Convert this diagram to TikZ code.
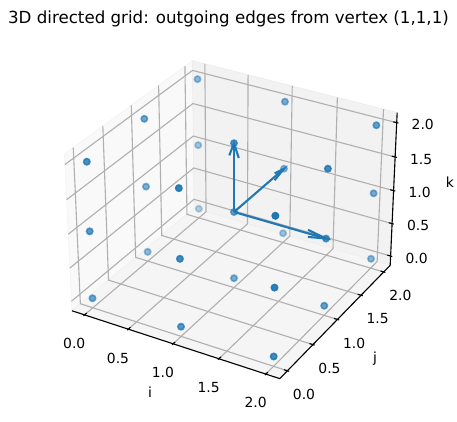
\documentclass[tikz,border=0pt]{standalone}
\usepackage{fontspec}
\setmainfont{DejaVu Sans}
\definecolor{tabblue}{RGB}{31,119,180}
\definecolor{gridgray}{RGB}{176,176,176}

% perspective view of a grid point (i,j,k), elevation 30, azimuth -60
\newcommand{\gridproj}[3]{%
  \pgfmathsetmacro{\qa}{0.5195*(#1-1)}%
  \pgfmathsetmacro{\qb}{0.5195*(#2-1)}%
  \pgfmathsetmacro{\qc}{0.3896*(#3-1)}%
  \pgfmathsetmacro{\dep}{0.433*\qa-0.75*\qb+0.5*\qc}%
  \pgfmathsetmacro{\fac}{200/(1-\dep/10)}%
  \pgfmathsetmacro{\gpx}{234+\fac*(0.866*\qa+0.5*\qb)}%
  \pgfmathsetmacro{\gpy}{212-\fac*(-0.25*\qa+0.433*\qb+0.866*\qc)}%
}
\newcommand{\setpt}[4]{\gridproj{#1}{#2}{#3}\coordinate (#4) at (\gpx,\gpy);}
\def\glo{-0.1458}
\def\ghi{2.1458}

\begin{document}
\begin{tikzpicture}[x=0.72pt,y=-0.72pt]
\tikzstyle{gridline}=[gridgray,line width=0.8pt]
\tikzstyle{axisline}=[black,line width=0.8pt]
\tikzstyle{ticklabel}=[font=\fontsize{10}{12}\selectfont,inner sep=0pt]
\tikzstyle{vertex}=[circle,fill=tabblue,draw=tabblue,line width=1.2pt,inner sep=0pt,minimum size=4.5pt]
\tikzstyle{quiv}=[tabblue,line width=1.5pt]
\useasboundingbox (0,0) rectangle (457,421);

\node[font=\fontsize{12}{14}\selectfont] (title) at (228.5,18.5) {3D directed grid: outgoing edges from vertex (1,1,1)};

% box corners and panes
\setpt{\glo}{\glo}{\glo}{c000} \setpt{\ghi}{\glo}{\glo}{c100}
\setpt{\glo}{\ghi}{\glo}{c010} \setpt{\ghi}{\ghi}{\glo}{c110}
\setpt{\glo}{\glo}{\ghi}{c001} \setpt{\glo}{\ghi}{\ghi}{c011}
\setpt{\ghi}{\ghi}{\ghi}{c111}
\filldraw[fill=black!2.5,draw=black!5] (c000) -- (c010) -- (c011) -- (c001) -- cycle;
\filldraw[fill=black!5,draw=black!8] (c010) -- (c110) -- (c111) -- (c011) -- cycle;
\filldraw[fill=black!3.75,draw=black!6] (c000) -- (c100) -- (c110) -- (c010) -- cycle;

\foreach \t [count=\n] in {0,0.5,1,1.5,2}{
  \setpt{\t}{\glo}{\glo}{gia\n} \setpt{\t}{\ghi}{\glo}{gib\n} \setpt{\t}{\ghi}{\ghi}{gic\n}
  \draw[gridline] (gia\n) -- (gib\n) -- (gic\n);
  \setpt{\ghi}{\t}{\glo}{gja\n} \setpt{\glo}{\t}{\glo}{gjb\n} \setpt{\glo}{\t}{\ghi}{gjc\n}
  \draw[gridline] (gja\n) -- (gjb\n) -- (gjc\n);
  \setpt{\glo}{\glo}{\t}{gka\n} \setpt{\glo}{\ghi}{\t}{gkb\n} \setpt{\ghi}{\ghi}{\t}{gkc\n}
  \draw[gridline] (gka\n) -- (gkb\n) -- (gkc\n);
}

\draw[axisline] (c000) -- (c100) -- (c110) -- (c111);

% ticks and tick labels
\foreach \t [count=\n] in {0.0,0.5,1.0,1.5,2.0}{
  \setpt{\t}{\glo}{\glo}{ib\n} \setpt{\t}{-0.1641}{\glo}{io\n} \setpt{\t}{-0.1091}{\glo}{ii\n}
  \draw[axisline] (io\n) -- (ii\n);
  \node[ticklabel] (il\n) at ([shift={(-10.3,28.8)}]ib\n) {\t};
  \setpt{\ghi}{\t}{\glo}{jb\n} \setpt{2.1641}{\t}{\glo}{jo\n} \setpt{2.1091}{\t}{\glo}{ji\n}
  \draw[axisline] (jo\n) -- (ji\n);
  \node[ticklabel] (jl\n) at ([shift={(16.6,23.6)}]jb\n) {\t};
  \setpt{\ghi}{\ghi}{\t}{kb\n} \setpt{2.1641}{\ghi}{\t}{ko\n} \setpt{2.1091}{\ghi}{\t}{ki\n}
  \draw[axisline] (ko\n) -- (ki\n);
  \node[ticklabel] (kl\n) at ([shift={(26,2.2)}]kb\n) {\t};
}
\node[ticklabel] (ilabel) at ([shift={(-23,48)}]ib3) {i};
\node[ticklabel] (jlabel) at ([shift={(37.5,38.8)}]jb3) {j};
\node[ticklabel] (klabel) at ([shift={(56.4,-8.9)}]kb3) {k};

% vertices, fainter further back
\foreach \i in {0,1,2}{\foreach \j in {0,1,2}{\foreach \k in {0,1,2}{
  \gridproj{\i}{\j}{\k}
  \pgfmathsetmacro{\shade}{0.3+0.7*(\dep+0.8094)/1.6188}
  \node[vertex,opacity=\shade] (v\i\j\k) at (\gpx,\gpy) {};
}}}

% outgoing edges of (1,1,1)
\setpt{1.8068}{1}{1.0518}{hi1} \setpt{1.8068}{1}{0.9482}{hi2}
\setpt{1}{1.8068}{1.0518}{hj1} \setpt{1}{1.8068}{0.9482}{hj2}
\setpt{1.0518}{1}{1.8068}{hk1} \setpt{0.9482}{1}{1.8068}{hk2}
\draw[quiv] (v111.center) -- (v211.center);
\draw[quiv] (hi1) -- (v211.center) -- (hi2);
\draw[quiv] (v111.center) -- (v121.center);
\draw[quiv] (hj1) -- (v121.center) -- (hj2);
\draw[quiv] (v111.center) -- (v112.center);
\draw[quiv] (hk1) -- (v112.center) -- (hk2);
\end{tikzpicture}
\end{document}
